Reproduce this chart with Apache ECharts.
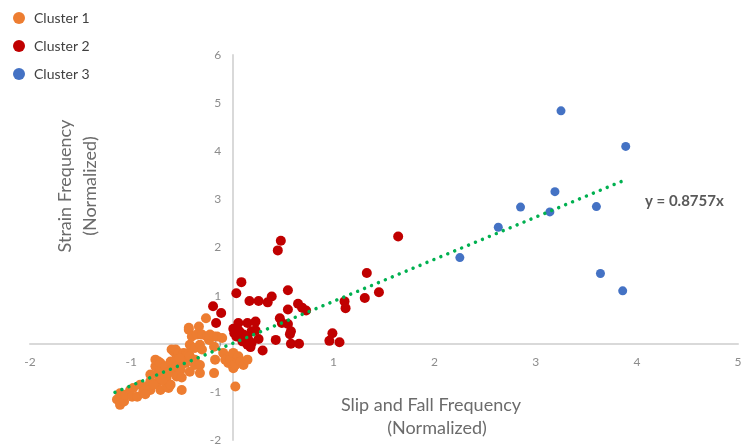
<!DOCTYPE html>
<html>
<head>
<meta charset="utf-8">
<script src="https://cdn.jsdelivr.net/npm/echarts@6/dist/echarts.min.js"></script>
<style>html,body{margin:0;padding:0;background:#fff;}#c{width:742px;height:447px;}</style>
</head>
<body>
<div id="c"></div>
<script>
var seriesNames = ['Cluster 1', 'Cluster 2', 'Cluster 3'];
var xTicks = [-2, 5, 1];
var yTicks = [-2, 6, 1];
var cluster1 = [[-1.14,-1.16],[-1.11,-1.27],[-1.07,-1.20],[-1.11,-1.03],[-1.06,-1.06],[-1.01,-0.96],[-0.98,-0.92],[-0.99,-1.10],[-0.94,-1.10],[-0.91,-0.85],[-0.88,-0.99],[-0.84,-0.89],[-0.81,-0.96],[-0.81,-0.78],[-0.81,-0.64],[-0.76,-0.47],[-0.76,-0.33],[-0.74,-0.64],[-0.73,-0.78],[-0.73,-0.37],[-0.71,-0.96],[-0.71,-0.51],[-0.71,-0.40],[-0.68,-0.64],[-0.66,-0.47],[-0.65,-0.71],[-0.65,-0.89],[-0.63,-0.92],[-0.61,-0.85],[-0.61,-0.37],[-0.60,-0.54],[-0.60,-0.12],[-0.58,-0.16],[-0.56,-0.64],[-0.56,-0.33],[-0.56,-0.12],[-0.55,-0.47],[-0.55,-0.68],[-0.53,-0.19],[-0.51,-0.54],[-0.50,-0.96],[-0.48,-0.19],[-0.48,-0.40],[-0.46,-0.23],[-0.46,-0.40],[-0.43,-0.19],[-0.43,0.29],[-0.43,0.33],[-0.42,-0.26],[-0.42,-0.58],[-0.42,-0.02],[-0.40,0.15],[-0.37,-0.09],[-0.37,-0.33],[-0.37,-0.44],[-0.35,0.19],[-0.33,0.36],[-0.32,-0.02],[-0.32,-0.44],[-0.32,-0.61],[-0.30,-0.12],[-0.30,0.19],[-0.26,0.53],[-0.25,0.15],[-0.23,0.08],[-0.22,0.19],[-0.18,0.15],[-0.18,-0.06],[-0.17,-0.33],[-0.18,-0.61],[-0.15,0.15],[-0.10,0.12],[-0.09,-0.19],[-0.07,-0.33],[-0.04,-0.40],[-0.02,-0.26],[-0.02,-0.33],[0.01,-0.19],[0.01,-0.44],[0.01,-0.51],[0.03,-0.44],[0.05,-0.30],[0.06,-0.26],[0.08,-0.37],[0.11,-0.44],[0.15,-0.33],[0.03,-0.89],[-0.86,-1.05],[-0.78,-0.85],[-0.69,-0.75],[-0.64,-0.60],[-0.52,-0.30],[-0.50,-0.70]];
var cluster2 = [[0.48,2.14],[0.45,1.94],[0.09,1.28],[0.04,1.05],[0.55,1.11],[0.17,0.89],[0.26,0.89],[0.35,0.86],[0.39,0.98],[-0.19,0.78],[-0.11,0.64],[-0.16,0.43],[0.65,0.83],[0.69,0.75],[0.73,0.69],[0.55,0.71],[0.47,0.53],[0.49,0.43],[0.55,0.41],[0.58,0.26],[0.57,0.20],[0.43,0.08],[0.58,0.0],[0.66,0.0],[0.30,-0.14],[0.06,0.43],[0.15,0.43],[0.23,0.46],[0.01,0.31],[0.07,0.26],[0.11,0.19],[0.19,0.26],[0.23,0.28],[0.26,0.10],[0.17,0.05],[0.10,0.05],[0.15,-0.02],[0.18,-0.07],[0.04,0.15],[0.02,0.22],[0.15,0.15],[0.19,0.01],[1.64,2.23],[1.33,1.47],[1.45,1.07],[1.31,0.95],[1.11,0.88],[1.12,0.74],[0.99,0.22],[0.96,0.06],[1.06,0.03]];
var cluster3 = [[3.25,4.84],[3.89,4.10],[3.19,3.16],[2.85,2.84],[3.14,2.74],[3.60,2.85],[2.63,2.42],[2.25,1.79],[3.64,1.46],[3.86,1.10]];
var trendLine = [[-1.16,-1.01],[3.89,3.41]];
var trendLabel = 'y = 0.8757x';
var xName = ['Slip and Fall Frequency', '(Normalized)'];
var yName = ['Strain Frequency', '(Normalized)'];

var colors = ['#ED7D31', '#C00000', '#4472C4'];
var FONT = 'Lato, "Open Sans", sans-serif';
var GRID = {left: 30, right: 4, top: 55, bottom: 7};
var W = 742, H = 447;
var gridW = W - GRID.left - GRID.right, gridH = H - GRID.top - GRID.bottom;
// offsets that bring each axis (with its labels) to the other axis' zero
var xAxisOffset = -gridH * (0 - yTicks[0]) / (yTicks[1] - yTicks[0]);
var yAxisOffset = -gridW * (0 - xTicks[0]) / (xTicks[1] - xTicks[0]);

var chart = echarts.init(document.getElementById('c'), null, {renderer: 'canvas'});
var axisCommon = {
  type: 'value',
  axisLine: {onZero: false, lineStyle: {color: '#d9d9d9', width: 2}},
  axisTick: {show: false},
  splitLine: {show: false},
  axisLabel: {color: '#8c8c8c', fontSize: 12, fontFamily: FONT}
};
chart.setOption({
  animation: false,
  color: colors,
  grid: Object.assign({containLabel: false, outerBoundsMode: 'none'}, GRID),
  legend: {
    orient: 'vertical', left: 8, top: 6, itemWidth: 12, itemHeight: 12, itemGap: 14,
    icon: 'circle',
    data: seriesNames,
    textStyle: {color: '#404040', fontSize: 14, fontFamily: FONT, padding: [0, 0, 0, 4]}
  },
  xAxis: Object.assign({}, axisCommon, {position: 'bottom', offset: xAxisOffset,
    min: xTicks[0], max: xTicks[1], interval: xTicks[2],
    axisLabel: Object.assign({}, axisCommon.axisLabel, {margin: 12})}),
  yAxis: Object.assign({}, axisCommon, {position: 'left', offset: yAxisOffset,
    min: yTicks[0], max: yTicks[1], interval: yTicks[2],
    axisLabel: Object.assign({}, axisCommon.axisLabel, {margin: 11})}),
  graphic: [
    {type: 'text', x: 431, y: 405, style: {text: xName[0], fill: '#6b6b6b', font: '18px ' + FONT, align: 'center', verticalAlign: 'middle'}},
    {type: 'text', x: 437, y: 428, style: {text: xName[1], fill: '#6b6b6b', font: '18px ' + FONT, align: 'center', verticalAlign: 'middle'}},
    {type: 'text', x: 78, y: 186, rotation: Math.PI / 2, style: {text: yName[0] + '\n' + yName[1], fill: '#6b6b6b', font: '18px ' + FONT, align: 'center', verticalAlign: 'middle', lineHeight: 25}},
    {type: 'text', left: 645, top: 194, style: {text: trendLabel, fill: '#595959', font: 'bold 15px ' + FONT}}
  ],
  series: [
    {name: seriesNames[0], type: 'scatter', data: cluster1, symbolSize: 10, itemStyle: {color: colors[0], opacity: 1}, z: 2},
    {name: seriesNames[1], type: 'scatter', data: cluster2, symbolSize: 10, itemStyle: {color: colors[1], opacity: 1}, z: 3},
    {name: seriesNames[2], type: 'scatter', data: cluster3, symbolSize: 9, itemStyle: {color: colors[2], opacity: 1}, z: 3},
    {name: 'trend', type: 'line', data: trendLine, symbol: 'none', z: 5, silent: true,
      lineStyle: {color: '#00B050', width: 3.5, type: [0.01, 7.5], cap: 'round'}}
  ]
});
</script>
</body>
</html>
